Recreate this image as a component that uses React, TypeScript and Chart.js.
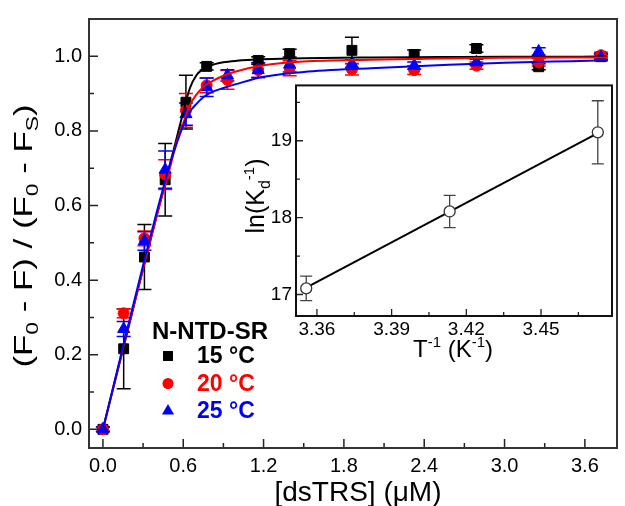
import React, { useEffect, useRef } from "react";
import { Chart, registerables } from "chart.js";
Chart.register(...registerables);

const FONT = "'Liberation Sans', Arial, Helvetica, sans-serif";

// ---------- main plot data ----------
const conc = [0, 0.155, 0.31, 0.465, 0.62, 0.775, 0.93, 1.16, 1.395, 1.86, 2.325, 2.79, 3.255, 3.72];
const frac15 = [0, 0.216, 0.462, 0.669, 0.877, 0.973, null, 0.989, 1.007, 1.016, 1.005, 1.021, 0.972, 0.999];
const err15 = [0.006, 0.107, 0.087, 0.097, 0.072, 0.01, 0, 0.01, 0.012, 0.035, 0.012, 0.01, 0.008, 0.008];
const frac20 = [0, 0.311, 0.512, 0.683, 0.855, 0.922, 0.937, 0.963, 0.968, 0.965, 0.963, 0.975, 0.984, 1.003];
const err20 = [0.006, 0.012, 0.02, 0.04, 0.045, 0.02, 0.025, 0.02, 0.02, 0.015, 0.012, 0.01, 0.01, 0.008];
const frac25 = [0, 0.269, 0.505, 0.696, 0.845, 0.917, 0.949, 0.963, 0.978, 0.98, 0.975, 0.984, 1.013, 0.997];
const err25 = [0.006, 0.02, 0.025, 0.05, 0.03, 0.025, 0.015, 0.02, 0.02, 0.01, 0.01, 0.008, 0.01, 0.008];

const fitConc = [0, 0.1, 0.2, 0.3, 0.4, 0.5, 0.55, 0.6, 0.65, 0.7, 0.75, 0.8, 0.9, 1.0, 1.2, 1.5, 2.0, 2.5, 3.0, 3.5, 3.77];
const fit15 = [0, 0.143, 0.286, 0.43, 0.57, 0.71, 0.78, 0.85, 0.915, 0.95, 0.966, 0.975, 0.984, 0.988, 0.992, 0.995, 0.997, 0.998, 0.999, 0.999, 1.0];
const fit20 = [0, 0.145, 0.29, 0.43, 0.57, 0.7, 0.77, 0.82, 0.87, 0.898, 0.918, 0.93, 0.948, 0.96, 0.976, 0.986, 0.991, 0.994, 0.996, 0.997, 0.997];
const fit25 = [0, 0.148, 0.295, 0.44, 0.58, 0.71, 0.765, 0.815, 0.852, 0.873, 0.89, 0.902, 0.915, 0.926, 0.945, 0.958, 0.968, 0.976, 0.983, 0.987, 0.989];

const xTickVals = [0, 0.6, 1.2, 1.8, 2.4, 3.0, 3.6];
const xMinorVals = [0.3, 0.9, 1.5, 2.1, 2.7, 3.3];
const yTickVals = [0, 0.2, 0.4, 0.6, 0.8, 1.0];
const yMinorVals = [0.1, 0.3, 0.5, 0.7, 0.9];

const seriesLabels = ["15 °C", "20 °C", "25 °C"];
const seriesColors = ["#000000", "#ff0000", "#0000ff"];
const seriesShapes = ["rect", "circle", "triangle"];
const legendTitle = "N-NTD-SR";

// ---------- inset data ----------
const invT = [3.3557, 3.4133, 3.4728];
const lnK = [17.08, 18.08, 19.11];
const lnKErr = [0.16, 0.21, 0.41];
const lnFitX = [3.3557, 3.4728];
const lnFitY = [17.09, 19.1];
const inXTickVals = [3.36, 3.39, 3.42, 3.45];
const inXMinorVals = [3.375, 3.405, 3.435, 3.465];
const inYTickVals = [17, 18, 19];
const inYMinorVals = [17.5, 18.5, 19.5];

type Seg = { t: string; s: number; dy?: number; bold?: boolean };

function drawRich(ctx: CanvasRenderingContext2D, segs: Seg[], x: number, y: number, rotate: boolean, color: string, stretch = 1) {
  ctx.save();
  ctx.translate(x, y);
  if (rotate) ctx.rotate(-Math.PI / 2);
  ctx.scale(stretch, 1);
  ctx.textAlign = "left";
  ctx.textBaseline = "alphabetic";
  ctx.fillStyle = color;
  let total = 0;
  const widths: number[] = [];
  for (const s of segs) {
    ctx.font = `${s.bold ? "bold " : ""}${s.s}px ${FONT}`;
    const w = ctx.measureText(s.t).width;
    widths.push(w);
    total += w;
  }
  let cx = -total / 2;
  segs.forEach((s, i) => {
    ctx.font = `${s.bold ? "bold " : ""}${s.s}px ${FONT}`;
    ctx.fillText(s.t, cx, s.dy || 0);
    cx += widths[i];
  });
  ctx.restore();
}

function drawInwardTicks(chart: any, xMaj: number[], xMin: number[], yMaj: number[], yMin: number[], majLen: number, minLen: number, lw: number, color: string) {
  const { ctx, chartArea: a, scales } = chart;
  ctx.save();
  ctx.strokeStyle = color;
  ctx.lineWidth = lw;
  ctx.beginPath();
  const xs = scales.x, ys = scales.y;
  xMaj.forEach((v) => { const p = xs.getPixelForValue(v); ctx.moveTo(p, a.bottom); ctx.lineTo(p, a.bottom - majLen); });
  xMin.forEach((v) => { const p = xs.getPixelForValue(v); ctx.moveTo(p, a.bottom); ctx.lineTo(p, a.bottom - minLen); });
  yMaj.forEach((v) => { const p = ys.getPixelForValue(v); ctx.moveTo(a.left, p); ctx.lineTo(a.left + majLen, p); });
  yMin.forEach((v) => { const p = ys.getPixelForValue(v); ctx.moveTo(a.left, p); ctx.lineTo(a.left + minLen, p); });
  ctx.stroke();
  ctx.restore();
}

function drawErrorBars(chart: any, capHalf: number, lw: number) {
  const { ctx, scales } = chart;
  ctx.save();
  chart.data.datasets.forEach((ds: any, i: number) => {
    if (!ds.errorColor) return;
    const meta = chart.getDatasetMeta(i);
    ctx.strokeStyle = ds.errorColor;
    ctx.lineWidth = lw;
    ds.data.forEach((p: any, j: number) => {
      if (p.y == null || !p.e) return;
      const el = meta.data[j];
      if (!el) return;
      const x = el.x;
      const top = scales.y.getPixelForValue(p.y + p.e);
      const bot = scales.y.getPixelForValue(p.y - p.e);
      ctx.beginPath();
      ctx.moveTo(x, top); ctx.lineTo(x, bot);
      ctx.moveTo(x - capHalf, top); ctx.lineTo(x + capHalf, top);
      ctx.moveTo(x - capHalf, bot); ctx.lineTo(x + capHalf, bot);
      ctx.stroke();
    });
  });
  ctx.restore();
}

function drawMarker(ctx: CanvasRenderingContext2D, shape: string, x: number, y: number, color: string) {
  ctx.save();
  ctx.fillStyle = color;
  ctx.beginPath();
  if (shape === "rect") {
    ctx.rect(x - 5, y - 5, 10, 10);
  } else if (shape === "circle") {
    ctx.arc(x, y, 5.5, 0, Math.PI * 2);
  } else {
    const r = 7;
    ctx.moveTo(x, y - r);
    ctx.lineTo(x + r * 0.866, y + r * 0.5);
    ctx.lineTo(x - r * 0.866, y + r * 0.5);
    ctx.closePath();
  }
  ctx.fill();
  ctx.restore();
}

function makePts(xs: number[], ys: (number | null)[], es?: number[]) {
  const out: any[] = [];
  xs.forEach((x, i) => {
    if (ys[i] === null || ys[i] === undefined) return;
    out.push({ x, y: ys[i], e: es ? es[i] : 0 });
  });
  return out;
}

const mainPlugin = {
  id: "mainDecor",
  beforeDatasetsDraw(chart: any) {
    drawErrorBars(chart, 7, 1.5);
  },
  afterDraw(chart: any) {
    const { ctx, chartArea: a } = chart;
    drawInwardTicks(chart, xTickVals, xMinorVals, yTickVals, yMinorVals, 9, 5, 1.5, "#222");
    ctx.save();
    ctx.strokeStyle = "#333";
    ctx.lineWidth = 2;
    ctx.strokeRect(a.left, a.top, a.right - a.left, a.bottom - a.top);
    ctx.restore();
    // axis titles
    drawRich(ctx, [{ t: "[dsTRS] (\u03bcM)", s: 28 }], 358, 501, false, "#000");
    drawRich(
      ctx,
      [
        { t: "(F", s: 26 },
        { t: "0", s: 17, dy: 6 },
        { t: " - F) / (F", s: 26 },
        { t: "0", s: 17, dy: 6 },
        { t: " - F", s: 26 },
        { t: "S", s: 17, dy: 6 },
        { t: ")", s: 26 },
      ],
      32,
      236,
      true,
      "#000",
      1.34
    );
    // legend
    ctx.save();
    ctx.textAlign = "left";
    ctx.textBaseline = "alphabetic";
    ctx.font = `bold 24px ${FONT}`;
    ctx.fillStyle = "#000";
    ctx.fillText(legendTitle, 152, 339);
    ctx.font = `bold 23px ${FONT}`;
    seriesLabels.forEach((lab, i) => {
      const by = 363 + i * 27.5;
      drawMarker(ctx, seriesShapes[i], 168, by - 7, seriesColors[i]);
      ctx.fillStyle = seriesColors[i];
      ctx.fillText(lab, 197, by);
    });
    ctx.restore();
  },
};

const insetPlugin = {
  id: "insetDecor",
  beforeDraw(chart: any) {
    const { ctx, chartArea: a } = chart;
    ctx.save();
    ctx.fillStyle = "#fff";
    ctx.fillRect(a.left, a.top, a.right - a.left, a.bottom - a.top);
    ctx.restore();
  },
  beforeDatasetsDraw(chart: any) {
    drawErrorBars(chart, 6, 1.3);
  },
  afterDraw(chart: any) {
    const { ctx, chartArea: a } = chart;
    drawInwardTicks(chart, inXTickVals, inXMinorVals, inYTickVals, inYMinorVals, 7, 4, 1.3, "#222");
    ctx.save();
    ctx.strokeStyle = "#111";
    ctx.lineWidth = 2;
    ctx.strokeRect(a.left, a.top, a.right - a.left, a.bottom - a.top);
    ctx.restore();
    // x title: T^-1 (K^-1), canvas offset (230,70)
    drawRich(
      ctx,
      [
        { t: "T", s: 24 },
        { t: "-1", s: 15, dy: -10 },
        { t: " (K", s: 24 },
        { t: "-1", s: 15, dy: -10 },
        { t: ")", s: 24 },
      ],
      453 - 230,
      357 - 70,
      false,
      "#000"
    );
    drawRich(
      ctx,
      [
        { t: "ln(K", s: 25 },
        { t: "d", s: 16, dy: 6 },
        { t: "-1", s: 15, dy: -10 },
        { t: ")", s: 25 },
      ],
      264 - 230,
      196 - 70,
      true,
      "#000"
    );
  },
};

export default function App() {
  const mainRef = useRef<HTMLCanvasElement>(null);
  const insetRef = useRef<HTMLCanvasElement>(null);

  useEffect(() => {
    const tickFont = { family: FONT, size: 20 };
    const lineDs = (ys: number[], color: string, order: number) => ({
      data: makePts(fitConc, ys),
      showLine: true,
      borderColor: color,
      borderWidth: 2,
      pointRadius: 0,
      cubicInterpolationMode: "monotone",
      order,
    });
    const ptDs = (ys: (number | null)[], es: number[], i: number, order: number, radius: number) => ({
      data: makePts(conc, ys, es),
      showLine: false,
      pointStyle: seriesShapes[i],
      pointRadius: radius,
      backgroundColor: seriesColors[i],
      borderColor: seriesColors[i],
      borderWidth: 1,
      errorColor: seriesColors[i],
      order,
    });
    const noGrid = { display: false, drawTicks: false };
    const main = new Chart(mainRef.current!, {
      type: "scatter",
      data: {
        datasets: [
          ptDs(frac15, err15, 0, 5, 7),
          ptDs(frac20, err20, 1, 4, 5.5),
          ptDs(frac25, err25, 2, 3, 7),
          lineDs(fit15, seriesColors[0], 2),
          lineDs(fit20, seriesColors[1], 1),
          lineDs(fit25, seriesColors[2], 0),
        ] as any,
      },
      options: {
        responsive: false,
        animation: false,
        events: [],
        layout: { padding: { top: 15, right: 3, left: 0, bottom: 0 } },
        plugins: { legend: { display: false }, tooltip: { enabled: false } },
        scales: {
          x: {
            type: "linear",
            min: -0.104,
            max: 3.84,
            grid: noGrid,
            border: { display: false },
            afterBuildTicks: (s: any) => { s.ticks = xTickVals.map((v) => ({ value: v })); },
            afterFit: (s: any) => { s.height = 58; },
            ticks: { font: tickFont, color: "#000", padding: 6, maxRotation: 0, autoSkip: false, callback: (v: any) => Number(v).toFixed(1) },
          },
          y: {
            type: "linear",
            min: -0.05,
            max: 1.1,
            grid: noGrid,
            border: { display: false },
            afterBuildTicks: (s: any) => { s.ticks = yTickVals.map((v) => ({ value: v })); },
            afterFit: (s: any) => { s.width = 89; },
            ticks: { font: tickFont, color: "#000", padding: 7, autoSkip: false, callback: (v: any) => Number(v).toFixed(1) },
          },
        },
      } as any,
      plugins: [mainPlugin],
    });

    const insetFont = { family: FONT, size: 19 };
    const inset = new Chart(insetRef.current!, {
      type: "scatter",
      data: {
        datasets: [
          {
            data: makePts(lnFitX, lnFitY),
            showLine: true,
            borderColor: "#000",
            borderWidth: 2,
            pointRadius: 0,
            order: 1,
          },
          {
            data: makePts(invT, lnK, lnKErr),
            showLine: false,
            pointStyle: "circle",
            pointRadius: 5.5,
            backgroundColor: "#fff",
            borderColor: "#333",
            borderWidth: 1.3,
            errorColor: "#444",
            order: 0,
          },
        ] as any,
      },
      options: {
        responsive: false,
        animation: false,
        events: [],
        layout: { padding: { top: 12, right: 10, left: 0, bottom: 0 } },
        plugins: { legend: { display: false }, tooltip: { enabled: false } },
        scales: {
          x: {
            type: "linear",
            min: 3.3516,
            max: 3.4785,
            grid: noGrid,
            border: { display: false },
            afterBuildTicks: (s: any) => { s.ticks = inXTickVals.map((v) => ({ value: v })); },
            afterFit: (s: any) => { s.height = 54; },
            ticks: { font: insetFont, color: "#000", padding: 2, maxRotation: 0, autoSkip: false, callback: (v: any) => Number(v).toFixed(2) },
          },
          y: {
            type: "linear",
            min: 16.72,
            max: 19.72,
            grid: noGrid,
            border: { display: false },
            afterBuildTicks: (s: any) => { s.ticks = inYTickVals.map((v) => ({ value: v })); },
            afterFit: (s: any) => { s.width = 66; },
            ticks: { font: insetFont, color: "#000", padding: 4, autoSkip: false, callback: (v: any) => String(Math.round(Number(v))) },
          },
        },
      } as any,
      plugins: [insetPlugin],
    });

    return () => {
      main.destroy();
      inset.destroy();
    };
  }, []);

  return (
    <div style={{ position: "fixed", left: 0, top: 0, width: 625, height: 506, background: "#fff" }}>
      <canvas ref={mainRef} width={625} height={506} style={{ position: "absolute", left: 0, top: 0, width: 625, height: 506 }} />
      <canvas ref={insetRef} width={392} height={300} style={{ position: "absolute", left: 230, top: 70, width: 392, height: 300 }} />
    </div>
  );
}
